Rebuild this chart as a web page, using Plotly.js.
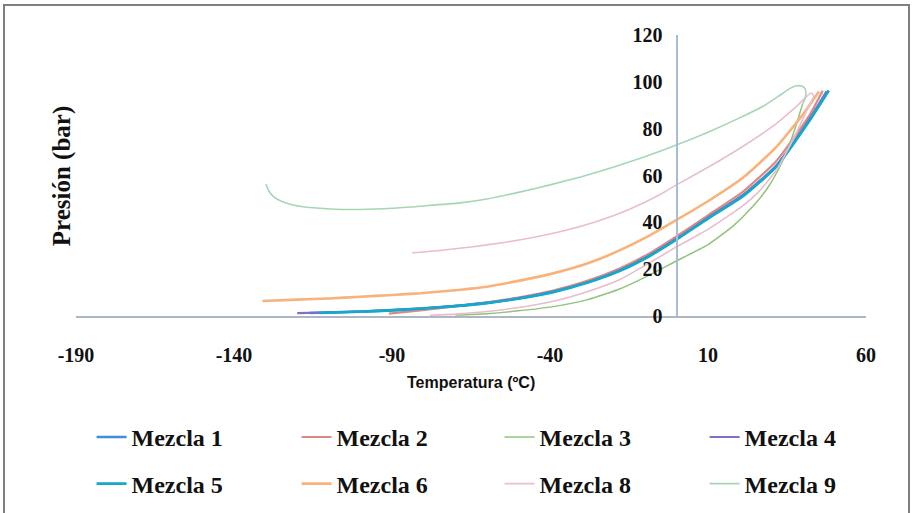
<!DOCTYPE html>
<html>
<head>
<meta charset="utf-8">
<script src="https://cdn.plot.ly/plotly-3.0.1.min.js"></script>
<style>
html,body{margin:0;padding:0;background:#fff;}
#wrap{position:relative;width:912px;height:513px;overflow:hidden;}
#chart{position:absolute;left:0;top:0;width:912px;height:513px;}
#frame{position:absolute;left:3px;top:4px;width:903px;height:530px;border:2px solid #7f7f7f;border-bottom:none;pointer-events:none;}
</style>
</head>
<body>
<div id="wrap"><div id="chart"></div><div id="frame"></div></div>
<script>
// ---- data (temperature ºC, pressure bar) ----
var seriesNames = ['Mezcla 1','Mezcla 2','Mezcla 3','Mezcla 4','Mezcla 5','Mezcla 6','Mezcla 8','Mezcla 9'];

var m1T = [-116, -100, -90, -81, -70, -60, -50, -39, -28, -18, -9, 0, 10, 21, 31.5, 42, 48.2];
var m1P = [1.3, 1.9, 2.5, 3.2, 4.3, 5.6, 7.6, 10.4, 14.5, 19.5, 25.5, 33, 42, 51.5, 64, 83.5, 96.3];

var m2T = [-91, -81, -70, -60, -50, -39, -28, -18, -9, 0, 10, 21, 31.5, 42, 46.3];
var m2P = [1.0, 2.4, 4.1, 5.8, 7.9, 10.9, 15.1, 20.3, 26.4, 34, 43, 53, 66, 85.5, 96.2];

var m3T = [40, 38, 36, 33, 29, 24, 18, 10, 0, -10, -18, -28, -39, -50, -60, -70];
var m3P = [90.8, 82, 74, 64.5, 55, 46.5, 38.5, 30.5, 23.5, 16.5, 11.5, 7, 4, 2.2, 1, 0.4];

var m4T = [-120, -113, -100, -90, -81, -70, -60, -50, -39, -28, -18, -9, 0, 10, 21, 31.5, 42, 47.5];
var m4P = [1.2, 1.4, 1.9, 2.5, 3.2, 4.3, 5.6, 7.6, 10.4, 14.5, 19.5, 25.5, 33, 42, 51.5, 64, 84, 96];

var m5T = [-113, -100, -90, -81, -70, -60, -50, -39, -28, -18, -9, 0, 10, 21, 31.5, 42, 48.2];
var m5P = [1.3, 1.8, 2.4, 3.1, 4.2, 5.5, 7.4, 10.2, 14.3, 19.2, 25.2, 32.6, 41.6, 51, 63.6, 83.2, 96.3];

var m6T = [-131, -120, -110, -100, -90, -81, -70, -60, -50, -39, -28, -18, -9, 0, 10, 21, 31.5, 40, 45.1];
var m6P = [6.4, 7, 7.5, 8.2, 9, 9.7, 11, 12.5, 15, 18.2, 22.5, 28, 34, 41, 49, 59, 72, 86, 95.9];

var m8T = [-83.7, -75, -65, -55, -45, -35, -25, -15, -5, 0, 10, 21, 31.5, 38, 42.6, 43.5, 42, 40, 36, 31.5, 26, 21, 10, 0, -10, -18, -28, -39, -50, -60, -70, -78];
var m8P = [27, 28, 29.5, 31.3, 33.6, 36.6, 40.5, 45.5, 52, 56, 63.5, 72.4, 82, 89.5, 95.2, 94, 90, 84, 73, 62, 53, 47, 37, 29.5, 21.5, 15.5, 10.5, 6.3, 3.6, 1.9, 0.8, 0.3];

var m9T = [-129.9, -129, -127.5, -125, -121, -115, -108, -100, -90, -80, -68.5, -60, -50, -40, -30, -20, -10, 0, 10, 20, 28, 33, 36, 38, 39.8, 40.8, 41, 40.6, 40];
var m9P = [56.4, 53.5, 51, 49, 47.3, 46.2, 45.6, 45.5, 46, 47, 48.3, 50, 52.8, 56, 59.5, 63.5, 68, 73, 78.5, 84.6, 90, 94.5, 97.2, 98.3, 98.1, 96.8, 95, 92.5, 90.8];

var xTicks = [-190, -140, -90, -40, 10, 60];
var yTicks = [0, 20, 40, 60, 80, 100, 120];

// ---- styles ----
var colors = ['#3d8fd6', '#d98a86', '#8fc47a', '#7f70c4', '#13a9c9', '#f8b27a', '#e9bdd0', '#a6d6b6'];
var widths = [2.6, 2.2, 1.5, 2.2, 2.6, 2.6, 1.6, 1.6];
var Ts = [m1T, m2T, m3T, m4T, m5T, m6T, m8T, m9T];
var Ps = [m1P, m2P, m3P, m4P, m5P, m6P, m8P, m9P];
var legendIds = ['legend', 'legend2', 'legend3', 'legend4', 'legend5', 'legend6', 'legend7', 'legend8'];

var traces = seriesNames.map(function (n, i) {
  return {
    x: Ts[i], y: Ps[i], name: n, type: 'scatter', mode: 'lines',
    line: {color: colors[i], width: widths[i], shape: 'spline', smoothing: 0.5},
    legend: legendIds[i],
    hoverinfo: 'skip'
  };
});

var serif = 'Liberation Serif, Times New Roman, serif';
var legFont = {family: serif, size: 24, color: '#111', weight: 'bold'};
var legX = [0.0197, 0.2792, 0.5362, 0.7957];
var legY = [-0.352, -0.518];

var layout = {
  width: 912, height: 513,
  margin: {l: 76, r: 46, t: 35, b: 197, autoexpand: false},
  paper_bgcolor: '#fff', plot_bgcolor: '#fff',
  showlegend: true,
  xaxis: {
    range: [-190, 60], tickvals: xTicks, ticktext: xTicks.map(String),
    showgrid: false, zeroline: false, showline: true, linecolor: '#aeb6c2', linewidth: 1.5,
    ticks: '', ticklabelstandoff: 20,
    tickfont: {family: serif, size: 20, color: '#111', weight: 'bold'},
    fixedrange: true
  },
  yaxis: {
    range: [0, 120], tickvals: yTicks, ticktext: yTicks.map(String),
    anchor: 'free', position: 0.76, side: 'left',
    showgrid: false, zeroline: false, showline: true, linecolor: '#a9bdd2', linewidth: 1.2,
    ticks: '', ticklabelstandoff: 10,
    tickfont: {family: serif, size: 20, color: '#111', weight: 'bold'},
    fixedrange: true
  },
  annotations: [
    {text: 'Presión (bar)', xref: 'paper', yref: 'paper', x: -0.018, y: 0.5,
     xanchor: 'center', yanchor: 'middle', textangle: -90, showarrow: false,
     font: {family: serif, size: 25, color: '#111', weight: 'bold'}},
    {text: 'Temperatura (ºC)', xref: 'paper', yref: 'paper', x: 0.5, y: -0.238,
     xanchor: 'center', yanchor: 'middle', showarrow: false,
     font: {family: 'Liberation Sans, Arial, sans-serif', size: 16, color: '#111', weight: 'bold'}}
  ]
};

legendIds.forEach(function (id, i) {
  layout[id] = {
    orientation: 'h', x: legX[i % 4], xanchor: 'left', y: legY[Math.floor(i / 4)], yanchor: 'top',
    font: legFont, bgcolor: 'rgba(0,0,0,0)', borderwidth: 0
  };
});

Plotly.newPlot('chart', traces, layout, {staticPlot: true, displayModeBar: false});
</script>
</body>
</html>
